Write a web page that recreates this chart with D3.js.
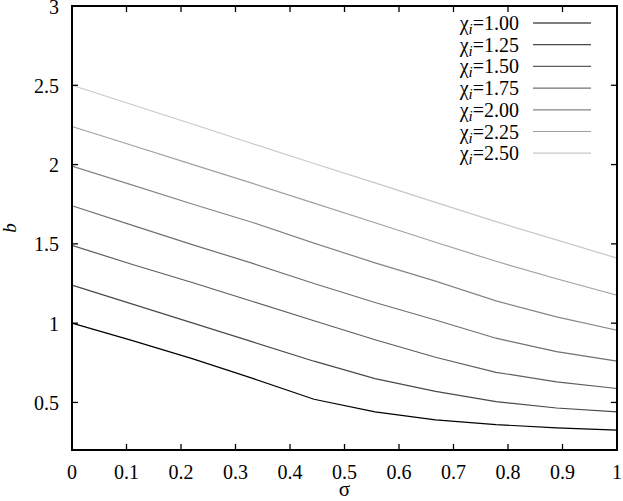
<!DOCTYPE html>
<html>
<head>
<meta charset="utf-8">
<script src="https://cdn.jsdelivr.net/npm/d3@7"></script>
<style>
  body { margin: 0; background: #fff; }
</style>
</head>
<body>
<div id="chart"></div>
<script>
// sigma grid (x) and b values (y)
var sigma = [0, 0.111, 0.222, 0.333, 0.444, 0.556, 0.667, 0.778, 0.889, 1];
var chiLabels = ["1.00", "1.25", "1.50", "1.75", "2.00", "2.25", "2.50"];
var b100 = [1.00, 0.89, 0.775, 0.65, 0.52, 0.44, 0.39, 0.36, 0.34, 0.325];
var b125 = [1.24, 1.12, 1.00, 0.88, 0.76, 0.65, 0.57, 0.505, 0.465, 0.44];
var b150 = [1.49, 1.37, 1.255, 1.135, 1.015, 0.895, 0.785, 0.69, 0.63, 0.588];
var b175 = [1.74, 1.617, 1.494, 1.375, 1.25, 1.13, 1.02, 0.905, 0.82, 0.76];
var b200 = [1.99, 1.87, 1.75, 1.633, 1.505, 1.38, 1.265, 1.14, 1.04, 0.955];
var b225 = [2.24, 2.12, 2.00, 1.88, 1.757, 1.633, 1.51, 1.39, 1.28, 1.176];
var b250 = [2.50, 2.377, 2.254, 2.13, 2.007, 1.885, 1.762, 1.64, 1.525, 1.41];
var xTicks = [0, 0.1, 0.2, 0.3, 0.4, 0.5, 0.6, 0.7, 0.8, 0.9, 1];
var yTicks = [0.5, 1, 1.5, 2, 2.5, 3];

var series = [b100, b125, b150, b175, b200, b225, b250];
var colors = ["#000000", "#4a4a4a", "#5e5e5e", "#707070", "#858585", "#a0a0a0", "#c8c8c8"];

var width = 623, height = 501;
var margin = { top: 6, left: 72, right: 6, bottom: 51 };
var serif = "'Liberation Serif'";

var svg = d3.select("#chart").append("svg")
            .attr("width", width)
            .attr("height", height)
            .style("font-family", serif);

var x = d3.scaleLinear().domain([0, 1]).range([margin.left, width - margin.right]);
var y = d3.scaleLinear().domain([0.2, 3]).range([height - margin.bottom, margin.top]);

var line = d3.line()
             .x((d, i) => x(sigma[i]))
             .y(d => y(d));

svg.append("g")
  .selectAll("path")
    .data(series)
  .enter().append("path")
    .attr("d", line)
    .attr("fill", "none")
    .attr("stroke", (d, i) => colors[i])
    .attr("stroke-width", 1.2);

// frame with mirrored inward ticks
var tick = 6;
var axes = svg.append("g").attr("stroke", "#000").attr("stroke-width", 1.3);
xTicks.slice(1, -1).forEach(t => {
  axes.append("line").attr("x1", x(t)).attr("x2", x(t)).attr("y1", y(0.2)).attr("y2", y(0.2) - tick);
  axes.append("line").attr("x1", x(t)).attr("x2", x(t)).attr("y1", y(3)).attr("y2", y(3) + tick);
});
yTicks.slice(0, -1).forEach(t => {
  axes.append("line").attr("x1", x(0)).attr("x2", x(0) + tick).attr("y1", y(t)).attr("y2", y(t));
  axes.append("line").attr("x1", x(1)).attr("x2", x(1) - tick).attr("y1", y(t)).attr("y2", y(t));
});
svg.append("rect")
   .attr("x", x(0)).attr("y", y(3))
   .attr("width", x(1) - x(0)).attr("height", y(0.2) - y(3))
   .attr("fill", "none").attr("stroke", "#000").attr("stroke-width", 2);

// tick labels
svg.append("g").selectAll("text")
    .data(xTicks)
  .enter().append("text")
    .attr("x", d => x(d))
    .attr("y", y(0.2) + 29)
    .attr("text-anchor", "middle")
    .style("font-family", serif)
    .attr("font-size", 20)
    .text(d => d3.format("~g")(d));

svg.append("g").selectAll("text")
    .data(yTicks)
  .enter().append("text")
    .attr("x", x(0) - 13)
    .attr("y", d => y(d) + 1)
    .attr("dy", "0.33em")
    .attr("text-anchor", "end")
    .style("font-family", serif)
    .attr("font-size", 20)
    .text(d => d3.format("~g")(d));

// axis titles
svg.append("text")
   .attr("x", x(0.5))
   .attr("y", 496)
   .attr("text-anchor", "middle")
   .style("font-family", serif)
   .attr("font-size", 21)
   .text("σ");

svg.append("text")
   .attr("transform", "translate(16," + y(1.6) + ") rotate(-90)")
   .attr("text-anchor", "middle")
   .style("font-family", serif)
   .attr("font-size", 19)
   .attr("font-style", "italic")
   .text("b");

// legend
var legend = svg.append("g");
chiLabels.forEach((lab, i) => {
  var ly = 23 + i * 21.7;
  var t = legend.append("text")
     .attr("x", 519)
     .attr("y", ly)
     .attr("dy", "0.35em")
     .attr("text-anchor", "end")
     .style("font-family", serif)
     .attr("font-size", 20);
  t.append("tspan").text("χ");
  t.append("tspan").attr("font-style", "italic").attr("font-size", 15).attr("dy", 4).text("i");
  t.append("tspan").attr("dy", -4).text("=" + lab);
  legend.append("line")
     .attr("x1", 533).attr("x2", 591)
     .attr("y1", ly).attr("y2", ly)
     .attr("stroke", colors[i])
     .attr("stroke-width", 1.2);
});
</script>
</body>
</html>
